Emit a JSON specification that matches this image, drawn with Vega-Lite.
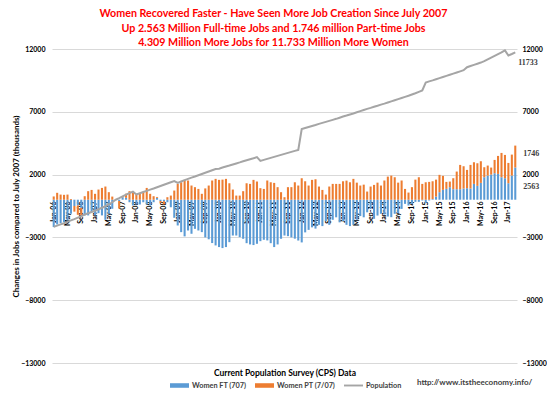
{
  "$schema": "https://vega.github.io/schema/vega-lite/v6.json",
  "width": 465,
  "height": 314,
  "autosize": {"type": "none"},
  "padding": {"left": 52, "top": 49, "right": 30, "bottom": 34},
  "background": "white",
  "title": {
    "text": ["Women Recovered Faster - Have Seen More Job Creation Since July 2007", "Up 2.563 Million Full-time Jobs and 1.746 million Part-time Jobs", "4.309 Million More Jobs for 11.733 Million More Women"],
    "color": "#FF0000", "font": "Lato", "fontSize": 10.7, "fontWeight": "bold",
    "anchor": "middle", "offset": 5, "lineHeight": 14.5, "dx": -11, "dy": 9
  },
  "config": {"view": {"stroke": null}},
  "data": {"values": [
    {"m":"Jan-06","ft":-2180,"pt":260,"pop":-2150},
    {"m":"Feb-06","ft":-1970,"pt":550,"pop":-2060},
    {"m":"Mar-06","ft":-1870,"pt":410,"pop":-1960},
    {"m":"Apr-06","ft":-1790,"pt":390,"pop":-1870},
    {"m":"May-06","ft":-1650,"pt":410,"pop":-1760},
    {"m":"Jun-06","ft":-1120,"pt":60,"pop":-1650},
    {"m":"Jul-06","ft":-500,"pt":-450,"pop":-1540},
    {"m":"Aug-06","ft":-450,"pt":-750,"pop":-1420},
    {"m":"Sep-06","ft":-650,"pt":-600,"pop":-1300},
    {"m":"Oct-06","ft":-1250,"pt":280,"pop":-1180},
    {"m":"Nov-06","ft":-1250,"pt":680,"pop":-1080},
    {"m":"Dec-06","ft":-990,"pt":780,"pop":-980},
    {"m":"Jan-07","ft":-1250,"pt":470,"pop":-880},
    {"m":"Feb-07","ft":-1070,"pt":810,"pop":-760},
    {"m":"Mar-07","ft":-1250,"pt":940,"pop":-640},
    {"m":"Apr-07","ft":-1600,"pt":1050,"pop":-520},
    {"m":"May-07","ft":-1120,"pt":600,"pop":-380},
    {"m":"Jun-07","ft":-720,"pt":250,"pop":-200},
    {"m":"Jul-07","ft":0,"pt":0,"pop":0},
    {"m":"Aug-07","ft":-100,"pt":-600,"pop":120},
    {"m":"Sep-07","ft":200,"pt":100,"pop":260},
    {"m":"Oct-07","ft":150,"pt":330,"pop":400},
    {"m":"Nov-07","ft":-200,"pt":680,"pop":530},
    {"m":"Dec-07","ft":-460,"pt":600,"pop":640},
    {"m":"Jan-08","ft":-380,"pt":410,"pop":420},
    {"m":"Feb-08","ft":-380,"pt":470,"pop":520},
    {"m":"Mar-08","ft":-200,"pt":600,"pop":610},
    {"m":"Apr-08","ft":-380,"pt":940,"pop":700},
    {"m":"May-08","ft":-460,"pt":470,"pop":800},
    {"m":"Jun-08","ft":-200,"pt":280,"pop":890},
    {"m":"Jul-08","ft":150,"pt":70,"pop":990},
    {"m":"Aug-08","ft":-100,"pt":-150,"pop":1090},
    {"m":"Sep-08","ft":-120,"pt":-250,"pop":1190},
    {"m":"Oct-08","ft":-200,"pt":200,"pop":1290},
    {"m":"Nov-08","ft":-600,"pt":330,"pop":1390},
    {"m":"Dec-08","ft":-1440,"pt":730,"pop":1480},
    {"m":"Jan-09","ft":-2050,"pt":1260,"pop":1340},
    {"m":"Feb-09","ft":-2580,"pt":1390,"pop":1450},
    {"m":"Mar-09","ft":-2920,"pt":1580,"pop":1560},
    {"m":"Apr-09","ft":-2450,"pt":1530,"pop":1660},
    {"m":"May-09","ft":-2710,"pt":1130,"pop":1760},
    {"m":"Jun-09","ft":-2320,"pt":1000,"pop":1850},
    {"m":"Jul-09","ft":-2450,"pt":860,"pop":1950},
    {"m":"Aug-09","ft":-2580,"pt":470,"pop":2050},
    {"m":"Sep-09","ft":-3000,"pt":900,"pop":2150},
    {"m":"Oct-09","ft":-3150,"pt":1130,"pop":2250},
    {"m":"Nov-09","ft":-3450,"pt":1530,"pop":2350},
    {"m":"Dec-09","ft":-3640,"pt":1660,"pop":2440},
    {"m":"Jan-10","ft":-3770,"pt":1580,"pop":2470},
    {"m":"Feb-10","ft":-3850,"pt":1600,"pop":2560},
    {"m":"Mar-10","ft":-3770,"pt":1660,"pop":2640},
    {"m":"Apr-10","ft":-3380,"pt":1310,"pop":2720},
    {"m":"May-10","ft":-2850,"pt":810,"pop":2810},
    {"m":"Jun-10","ft":-2850,"pt":330,"pop":2890},
    {"m":"Jul-10","ft":-2980,"pt":330,"pop":2970},
    {"m":"Aug-10","ft":-3110,"pt":680,"pop":3060},
    {"m":"Sep-10","ft":-3460,"pt":1310,"pop":3140},
    {"m":"Oct-10","ft":-3560,"pt":1260,"pop":3220},
    {"m":"Nov-10","ft":-3610,"pt":1580,"pop":3300},
    {"m":"Dec-10","ft":-3510,"pt":1450,"pop":3390},
    {"m":"Jan-11","ft":-3300,"pt":920,"pop":3090},
    {"m":"Feb-11","ft":-3190,"pt":860,"pop":3170},
    {"m":"Mar-11","ft":-3240,"pt":1530,"pop":3250},
    {"m":"Apr-11","ft":-3460,"pt":1390,"pop":3330},
    {"m":"May-11","ft":-3770,"pt":1340,"pop":3410},
    {"m":"Jun-11","ft":-3560,"pt":1000,"pop":3490},
    {"m":"Jul-11","ft":-3110,"pt":600,"pop":3570},
    {"m":"Aug-11","ft":-2850,"pt":200,"pop":3650},
    {"m":"Sep-11","ft":-2900,"pt":1000,"pop":3730},
    {"m":"Oct-11","ft":-3000,"pt":1000,"pop":3810},
    {"m":"Nov-11","ft":-3100,"pt":1390,"pop":3890},
    {"m":"Dec-11","ft":-3250,"pt":1130,"pop":3970},
    {"m":"Jan-12","ft":-3400,"pt":1710,"pop":5620},
    {"m":"Feb-12","ft":-2600,"pt":1470,"pop":5710},
    {"m":"Mar-12","ft":-2400,"pt":1130,"pop":5790},
    {"m":"Apr-12","ft":-2200,"pt":1580,"pop":5870},
    {"m":"May-12","ft":-2300,"pt":1630,"pop":5950},
    {"m":"Jun-12","ft":-2000,"pt":1050,"pop":6040},
    {"m":"Jul-12","ft":-2100,"pt":780,"pop":6120},
    {"m":"Aug-12","ft":-1700,"pt":410,"pop":6200},
    {"m":"Sep-12","ft":-2000,"pt":1050,"pop":6280},
    {"m":"Oct-12","ft":-1600,"pt":1260,"pop":6360},
    {"m":"Nov-12","ft":-1400,"pt":1260,"pop":6440},
    {"m":"Dec-12","ft":-1800,"pt":1260,"pop":6530},
    {"m":"Jan-13","ft":-1700,"pt":1470,"pop":6620},
    {"m":"Feb-13","ft":-2000,"pt":1520,"pop":6700},
    {"m":"Mar-13","ft":-2100,"pt":1390,"pop":6790},
    {"m":"Apr-13","ft":-2000,"pt":1660,"pop":6870},
    {"m":"May-13","ft":-1600,"pt":1360,"pop":6960},
    {"m":"Jun-13","ft":-1300,"pt":1130,"pop":7050},
    {"m":"Jul-13","ft":-1400,"pt":1200,"pop":7140},
    {"m":"Aug-13","ft":-1000,"pt":650,"pop":7230},
    {"m":"Sep-13","ft":-750,"pt":1050,"pop":7310},
    {"m":"Oct-13","ft":-1520,"pt":1180,"pop":7400},
    {"m":"Nov-13","ft":-1260,"pt":1360,"pop":7480},
    {"m":"Dec-13","ft":-1120,"pt":1130,"pop":7570},
    {"m":"Jan-14","ft":-1180,"pt":1530,"pop":7650},
    {"m":"Feb-14","ft":-1340,"pt":1840,"pop":7740},
    {"m":"Mar-14","ft":-1390,"pt":1920,"pop":7830},
    {"m":"Apr-14","ft":-1120,"pt":1790,"pop":7920},
    {"m":"May-14","ft":-1070,"pt":1360,"pop":8010},
    {"m":"Jun-14","ft":-730,"pt":1530,"pop":8100},
    {"m":"Jul-14","ft":-330,"pt":860,"pop":8190},
    {"m":"Aug-14","ft":-460,"pt":570,"pop":8280},
    {"m":"Sep-14","ft":-330,"pt":1000,"pop":8380},
    {"m":"Oct-14","ft":-170,"pt":1600,"pop":8480},
    {"m":"Nov-14","ft":-170,"pt":1790,"pop":8590},
    {"m":"Dec-14","ft":-60,"pt":1260,"pop":8700},
    {"m":"Jan-15","ft":-280,"pt":1390,"pop":9330},
    {"m":"Feb-15","ft":-60,"pt":1420,"pop":9420},
    {"m":"Mar-15","ft":50,"pt":1420,"pop":9500},
    {"m":"Apr-15","ft":250,"pt":1350,"pop":9590},
    {"m":"May-15","ft":600,"pt":1380,"pop":9680},
    {"m":"Jun-15","ft":785,"pt":1115,"pop":9770},
    {"m":"Jul-15","ft":864,"pt":556,"pop":9860},
    {"m":"Aug-15","ft":996,"pt":450,"pop":9950},
    {"m":"Sep-15","ft":837,"pt":875,"pop":10040},
    {"m":"Oct-15","ft":837,"pt":1405,"pop":10130},
    {"m":"Nov-15","ft":837,"pt":1935,"pop":10220},
    {"m":"Dec-15","ft":890,"pt":1776,"pop":10310},
    {"m":"Jan-16","ft":917,"pt":1457,"pop":10550},
    {"m":"Feb-16","ft":890,"pt":1882,"pop":10650},
    {"m":"Mar-16","ft":1261,"pt":1723,"pop":10740},
    {"m":"Apr-16","ft":1102,"pt":1802,"pop":10830},
    {"m":"May-16","ft":1340,"pt":1723,"pop":10920},
    {"m":"Jun-16","ft":1791,"pt":795,"pop":11030},
    {"m":"Jul-16","ft":1924,"pt":795,"pop":11170},
    {"m":"Aug-16","ft":2003,"pt":557,"pop":11310},
    {"m":"Sep-16","ft":2109,"pt":1060,"pop":11450},
    {"m":"Oct-16","ft":2056,"pt":1431,"pop":11590},
    {"m":"Nov-16","ft":1791,"pt":1935,"pop":11730},
    {"m":"Dec-16","ft":1712,"pt":1855,"pop":11890},
    {"m":"Jan-17","ft":1314,"pt":1616,"pop":11480},
    {"m":"Feb-17","ft":1924,"pt":1669,"pop":11600},
    {"m":"Mar-17","ft":2563,"pt":1746,"pop":11733}
  ]},
  "layer": [
    {
      "transform": [{"fold": ["ft", "pt"], "as": ["key", "value"]}],
      "mark": {"type": "bar"},
      "encoding": {
        "x": {
          "field": "m", "type": "ordinal", "sort": null,
          "scale": {"paddingInner": 0.4, "paddingOuter": 0.2},
          "axis": {
            "orient": "bottom", "offset": -164,
            "values": ["Jan-06","May-06","Sep-06","Jan-07","May-07","Sep-07","Jan-08","May-08","Sep-08","Jan-09","May-09","Sep-09","Jan-10","May-10","Sep-10","Jan-11","May-11","Sep-11","Jan-12","May-12","Sep-12","Jan-13","May-13","Sep-13","Jan-14","May-14","Sep-14","Jan-15","May-15","Sep-15","Jan-16","May-16","Sep-16","Jan-17"],
            "labelAngle": -90, "labelFont": "Lato", "labelFontSize": 7, "labelFontWeight": "bold",
            "labelColor": "#000000", "labelPadding": 2, "domain": false, "ticks": false, "grid": false,
            "title": null
          }
        },
        "y": {
          "field": "value", "type": "quantitative", "stack": "zero",
          "scale": {"domain": [-13000, 12000], "nice": false, "zero": false},
          "axis": {
            "orient": "left", "values": [-13000, -8000, -3000, 2000, 7000, 12000], "format": "d",
            "title": "Changes in Jobs compared to  July 2007 (thousands)",
            "titleFont": "Lato", "titleFontSize": 8, "titleFontWeight": "bold", "titleColor": "#000000",
            "titlePadding": 0,
            "labelFont": "Lato", "labelFontSize": 7, "labelFontWeight": "bold", "labelColor": "#000000",
            "labelPadding": 7, "domain": false, "ticks": false, "grid": true, "gridColor": "#D9D9D9"
          }
        },
        "color": {
          "field": "key", "type": "nominal",
          "scale": {"domain": ["ft", "pt", "pop"], "range": ["#5B9BD5", "#ED7D31", "#A5A5A5"]},
          "legend": {
            "orient": "none", "legendX": 118, "legendY": 327, "direction": "horizontal", "title": null,
            "symbolType": "M-1,-0.24H1V0.24H-1Z", "symbolSize": 361,
            "labelFont": "Lato", "labelFontSize": 7.3, "labelFontWeight": "bold", "labelColor": "#404040",
            "columnPadding": 8, "labelOffset": 3, "gridAlign": "none",
            "labelExpr": "datum.label === 'ft' ? 'Women FT (707)' : datum.label === 'pt' ? 'Women PT (7/07)' : 'Population'",
            "encode": {"symbols": {"update": {
              "shape": {"signal": "datum.value === 'pop' ? 'M-1,-0.1H1V0.1H-1Z' : 'M-1,-0.24H1V0.24H-1Z'"},
              "fill": {"signal": "scale('color', datum.value)"},
              "stroke": {"value": "transparent"},
              "strokeWidth": {"value": 0},
              "opacity": {"value": 1},
              "fillOpacity": {"value": 1}
            }}}
          }
        },
        "order": {"field": "key", "type": "nominal", "sort": "ascending"}
      }
    },
    {
      "mark": {"type": "line", "strokeWidth": 2},
      "encoding": {
        "x": {
          "field": "m", "type": "ordinal", "sort": null,
          "axis": {
            "orient": "bottom", "labels": false, "ticks": false, "domain": false, "grid": false,
            "title": "Current Population Survey (CPS) Data", "titleFont": "Lato", "titleFontSize": 8.5,
            "titleFontWeight": "bold", "titleColor": "#000000", "titlePadding": 5
          }
        },
        "y": {
          "field": "pop", "type": "quantitative",
          "axis": {
            "orient": "right", "values": [-13000, -8000, -3000, 2000, 7000, 12000], "format": "d", "title": null,
            "labelFont": "Lato", "labelFontSize": 7, "labelFontWeight": "bold", "labelColor": "#000000",
            "labelPadding": 5, "domain": false, "ticks": false, "grid": false
          }
        },
        "color": {"datum": "pop"},
        "order": {"value": null}
      }
    },
    {
      "transform": [{"filter": "datum.m === 'Mar-17'"}],
      "mark": {"type": "text", "align": "left", "baseline": "middle", "dx": 8, "dy": 19, "font": "Liberation Serif", "fontSize": 8, "fontWeight": "bold", "color": "#404040"},
      "encoding": {
        "x": {"field": "m", "type": "ordinal", "sort": null, "axis": null},
        "y": {"field": "ft", "type": "quantitative", "axis": null},
        "text": {"field": "ft", "type": "quantitative", "format": "d"}
      }
    },
    {
      "transform": [{"filter": "datum.m === 'Mar-17'"}],
      "mark": {"type": "text", "align": "left", "baseline": "middle", "dx": 8, "dy": -24, "font": "Liberation Serif", "fontSize": 8, "fontWeight": "bold", "color": "#404040"},
      "encoding": {
        "x": {"field": "m", "type": "ordinal", "sort": null, "axis": null},
        "y": {"field": "pt", "type": "quantitative", "axis": null},
        "text": {"field": "pt", "type": "quantitative", "format": "d"}
      }
    },
    {
      "transform": [{"filter": "datum.m === 'Mar-17'"}],
      "mark": {"type": "text", "align": "left", "baseline": "middle", "dx": 3, "dy": 11, "font": "Liberation Serif", "fontSize": 8, "fontWeight": "bold", "color": "#404040"},
      "encoding": {
        "x": {"field": "m", "type": "ordinal", "sort": null, "axis": null},
        "y": {"field": "pop", "type": "quantitative", "axis": null},
        "text": {"field": "pop", "type": "quantitative", "format": "d"}
      }
    },
    {
      "data": {"values": [{"t": "http://www.itstheeconomy.info/"}]},
      "mark": {"type": "text", "align": "right", "baseline": "middle", "dx": 17, "dy": 20, "font": "Lato", "fontSize": 8, "fontWeight": "bold", "color": "#404040"},
      "encoding": {
        "x": {"datum": "Mar-17", "type": "ordinal", "axis": null},
        "y": {"datum": -13000, "type": "quantitative", "axis": null},
        "text": {"field": "t"}
      }
    }
  ],
  "resolve": {"axis": {"x": "independent", "y": "independent"}}
}
